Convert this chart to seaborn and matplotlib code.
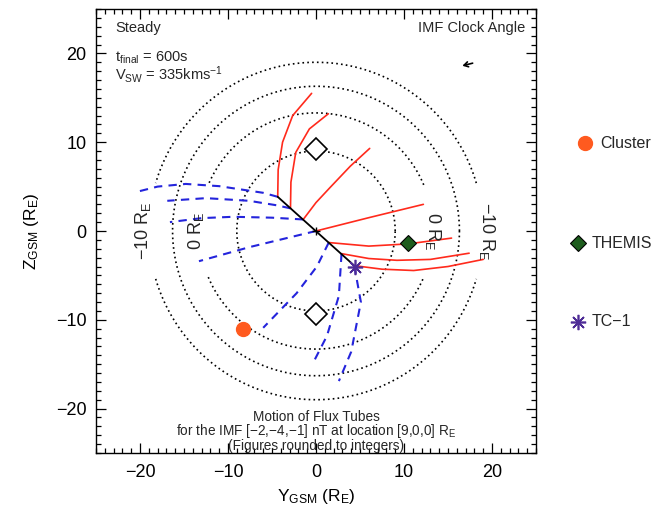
import numpy as np
import pandas as pd
import matplotlib
matplotlib.use("Agg")
import matplotlib.pyplot as plt
from matplotlib.lines import Line2D
from matplotlib.ticker import MultipleLocator
import seaborn as sns

# Run settings
imf_nT = [-2, -4, -1]
location_re = [9, 0, 0]
t_final_s = 600
v_sw_kms = 335

# Reconnection line end points (Y, Z) in R_E
xline_y = [-4.35, 4.35]
xline_z = [3.85, -3.9]

# Flux tubes convected northward (solid red), Y / Z in R_E
north_y = [
    [-4.35, -4.3, -3.8, -2.65, -0.5],
    [-2.9, -2.85, -2.3, -0.75, 1.4],
    [-1.45, 0.0, 1.6, 3.9, 6.1],
    [0.0, 6.0, 12.2],
    [1.45, 6.0, 10.5, 15.4],
    [2.9, 6.0, 9.2, 13.0, 17.4],
    [4.35, 7.5, 11.1, 15.0, 19.0],
]
north_z = [
    [3.85, 6.9, 10.0, 13.0, 15.5],
    [2.55, 5.5, 8.85, 11.5, 13.2],
    [1.3, 3.2, 4.9, 7.3, 9.3],
    [0.0, 1.5, 3.0],
    [-1.3, -1.7, -1.45, -0.8],
    [-2.55, -3.1, -3.3, -3.2, -2.5],
    [-3.9, -4.3, -4.45, -4.0, -3.2],
]

# Flux tubes convected southward (dashed blue), Y / Z in R_E
south_y = [
    [-4.35, -6.0, -8.0, -11.0, -14.8, -18.0, -20.6],
    [-2.9, -4.5, -7.6, -12.5, -16.9],
    [-1.45, -5.0, -9.4, -13.0, -16.6],
    [0.0, -7.5, -13.3],
    [1.45, 0.1, -2.2, -6.0],
    [2.9, 2.6, 1.25, -0.2],
    [4.35, 5.1, 4.0, 2.6],
]
south_z = [
    [3.85, 4.3, 4.6, 5.05, 5.3, 5.0, 4.35],
    [2.55, 2.9, 3.4, 3.7, 3.4],
    [1.3, 1.5, 1.6, 1.45, 1.0],
    [0.0, -1.8, -3.4],
    [-1.3, -4.0, -7.0, -10.9],
    [-2.55, -7.3, -11.8, -14.6],
    [-3.9, -8.0, -13.6, -16.9],
]

# Magnetopause X_GSM contours (radius in the Y-Z plane)
contour_r = [9.0, 13.3, 16.3, 19.0]
contour_gap_deg = [0.0, 23.0, 0.0, 16.5]
contour_text = [None, "0", None, "\u221210"]
# label positions (left Y, right Y) for the labelled contours
contour_text_y = {1: (-13.6, 13.3), 3: (-19.7, 19.4)}

# Cusp markers
cusp_y = [0.0, 0.0]
cusp_z = [9.2, -9.3]

# Spacecraft positions (Y, Z) in R_E
craft_names = ["Cluster", "THEMIS", "TC\u22121"]
craft_y = [-8.3, 10.5, 4.4]
craft_z = [-11.0, -1.4, -4.1]

major_ticks = [-20, -10, 0, 10, 20]

RED = "#ff2a1c"
BLUE = "#2424dc"
C_CLUSTER = "#ff5a1f"
C_THEMIS = "#1d5c1d"
C_TC1 = "#4e2c96"

sns.set_theme(style="white")
plt.rcParams["font.family"] = ["Liberation Sans", "DejaVu Sans"]
plt.rcParams["mathtext.default"] = "regular"
plt.rcParams["mathtext.fontset"] = "custom"
plt.rcParams["mathtext.rm"] = "Liberation Sans"

fig = plt.figure(figsize=(6.68, 5.05), dpi=100)
ax = fig.add_axes([96 / 668, 52 / 505, 440 / 668, 444 / 505])


def tubes_frame(ys, zs):
    rows = []
    for i, (yy, zz) in enumerate(zip(ys, zs)):
        for k, (y, z) in enumerate(zip(yy, zz)):
            rows.append({"tube": i, "order": k, "y": y, "z": z})
    return pd.DataFrame(rows)


# Dotted contour circles, broken where they carry a label
for i, (r, gap) in enumerate(zip(contour_r, contour_gap_deg)):
    th = np.linspace(0, 2 * np.pi, 721)
    cy, cz = r * np.cos(th), r * np.sin(th)
    if gap > 0:
        deg = np.degrees(th)
        cut = (np.abs(deg) < gap) | (np.abs(deg - 180) < gap) | (np.abs(deg - 360) < gap)
        cy = np.where(cut, np.nan, cy)
        cz = np.where(cut, np.nan, cz)
    ax.plot(cy, cz, color="black", lw=1.2, linestyle=(0, (1, 1.9)))

for i, (left_y, right_y) in contour_text_y.items():
    lab = contour_text[i] + r" $R_E$"
    ax.text(left_y, 0, lab, rotation=90, ha="center", va="center", fontsize=13)
    ax.text(right_y, 0, lab, rotation=-90, ha="center", va="center", fontsize=13)

north = tubes_frame(north_y, north_z)
south = tubes_frame(south_y, south_z)
sns.lineplot(data=north, x="y", y="z", units="tube", estimator=None, sort=False,
             color=RED, lw=1.2, ax=ax)
sns.lineplot(data=south, x="y", y="z", units="tube", estimator=None, sort=False,
             color=BLUE, lw=1.5, linestyle=(0, (4, 3)), ax=ax)

# Reconnection line
ax.plot(xline_y, xline_z, color="black", lw=1.3)
ax.plot([0], [0], marker="+", color="black", ms=6, mew=1.0)

# Cusp markers
ax.plot(cusp_y, cusp_z, linestyle="none", marker="D", ms=11, mfc="white",
        mec="black", mew=1.2)

# Spacecraft
ax.plot(craft_y[0], craft_z[0], marker="o", ms=10, color=C_CLUSTER, mec=C_CLUSTER)
ax.plot(craft_y[1], craft_z[1], marker="D", ms=8, mfc=C_THEMIS, mec="black", mew=0.8)
ax.plot(craft_y[2], craft_z[2], marker=(8, 2, 0), ms=11, color=C_TC1, mew=1.2)

# IMF clock angle indicator
tail = np.array([17.8, 18.9])
vec = np.array([imf_nT[1], imf_nT[2]], dtype=float)
head = tail + 1.2 * vec / np.hypot(*vec)
ax.annotate("", xy=head, xytext=tail,
            arrowprops=dict(arrowstyle="->,head_length=0.25,head_width=0.15",
                            color="black", lw=1.2, shrinkA=0, shrinkB=0))

# Annotations
ax.text(0.043, 0.948, "Steady", transform=ax.transAxes, fontsize=10.5, va="baseline")
ax.text(0.043, 0.882, r"$t_{final}$ = " + f"{t_final_s}s", transform=ax.transAxes,
        fontsize=10.5, va="baseline")
ax.text(0.043, 0.841, r"$V_{SW}$ = " + f"{v_sw_kms}kms" + r"$^{-1}$",
        transform=ax.transAxes, fontsize=10.5, va="baseline")
ax.text(0.975, 0.948, "IMF Clock Angle", transform=ax.transAxes, fontsize=10.5,
        ha="right", va="baseline")

imf_txt = ",".join(str(v).replace("-", "\u2212") for v in imf_nT)
loc_txt = ",".join(str(v) for v in location_re)
ax.text(0.5, 0.071, "Motion of Flux Tubes", transform=ax.transAxes,
        fontsize=9.8, ha="center", va="baseline")
ax.text(0.5, 0.040, f"for the IMF [{imf_txt}] nT at location [{loc_txt}] " + r"$R_E$",
        transform=ax.transAxes, fontsize=9.8, ha="center", va="baseline")
ax.text(0.5, 0.006, "(Figures rounded to integers)", transform=ax.transAxes,
        fontsize=9.8, ha="center", va="baseline")

# Axes styling
ax.set_xlim(-25, 25)
ax.set_ylim(-25, 25)
ax.set_xticks(major_ticks)
ax.set_yticks(major_ticks)
ax.xaxis.set_minor_locator(MultipleLocator(1))
ax.yaxis.set_minor_locator(MultipleLocator(1))
ax.tick_params(which="both", direction="in", top=True, right=True, bottom=True,
               left=True, width=0.9, color="black", labelsize=13, labelcolor="black")
ax.tick_params(which="major", length=7)
ax.tick_params(which="minor", length=3.5)
ax.tick_params(axis="x", which="major", pad=8)
ax.tick_params(axis="y", which="major", pad=7)
for s in ax.spines.values():
    s.set_color("black")
    s.set_linewidth(1.0)

ax.set_xlabel(r"$Y_{GSM}$ ($R_E$)", fontsize=12.5, color="black")
ax.set_ylabel(r"$Z_{GSM}$ ($R_E$)", fontsize=12.5, color="black")
ax.xaxis.set_label_coords(0.5, -0.077)
ax.yaxis.set_label_coords(-0.125, 0.5)

# Spacecraft key
key_pos = [(585, 143, 600), (578, 243, 592), (578, 322, 592)]
key_style = [
    dict(marker="o", ms=10, color=C_CLUSTER, mec=C_CLUSTER),
    dict(marker="D", ms=8, mfc=C_THEMIS, mec="black", mew=0.8),
    dict(marker=(8, 2, 0), ms=11, color=C_TC1, mew=1.2),
]
for name, (mx, my, tx), st in zip(craft_names, key_pos, key_style):
    fig.add_artist(Line2D([mx / 668], [1 - my / 505], transform=fig.transFigure,
                          linestyle="none", **st))
    fig.text(tx / 668, 1 - my / 505, name, fontsize=11.5, va="center", ha="left")

fig.savefig("out.png", dpi=100, facecolor="white")
